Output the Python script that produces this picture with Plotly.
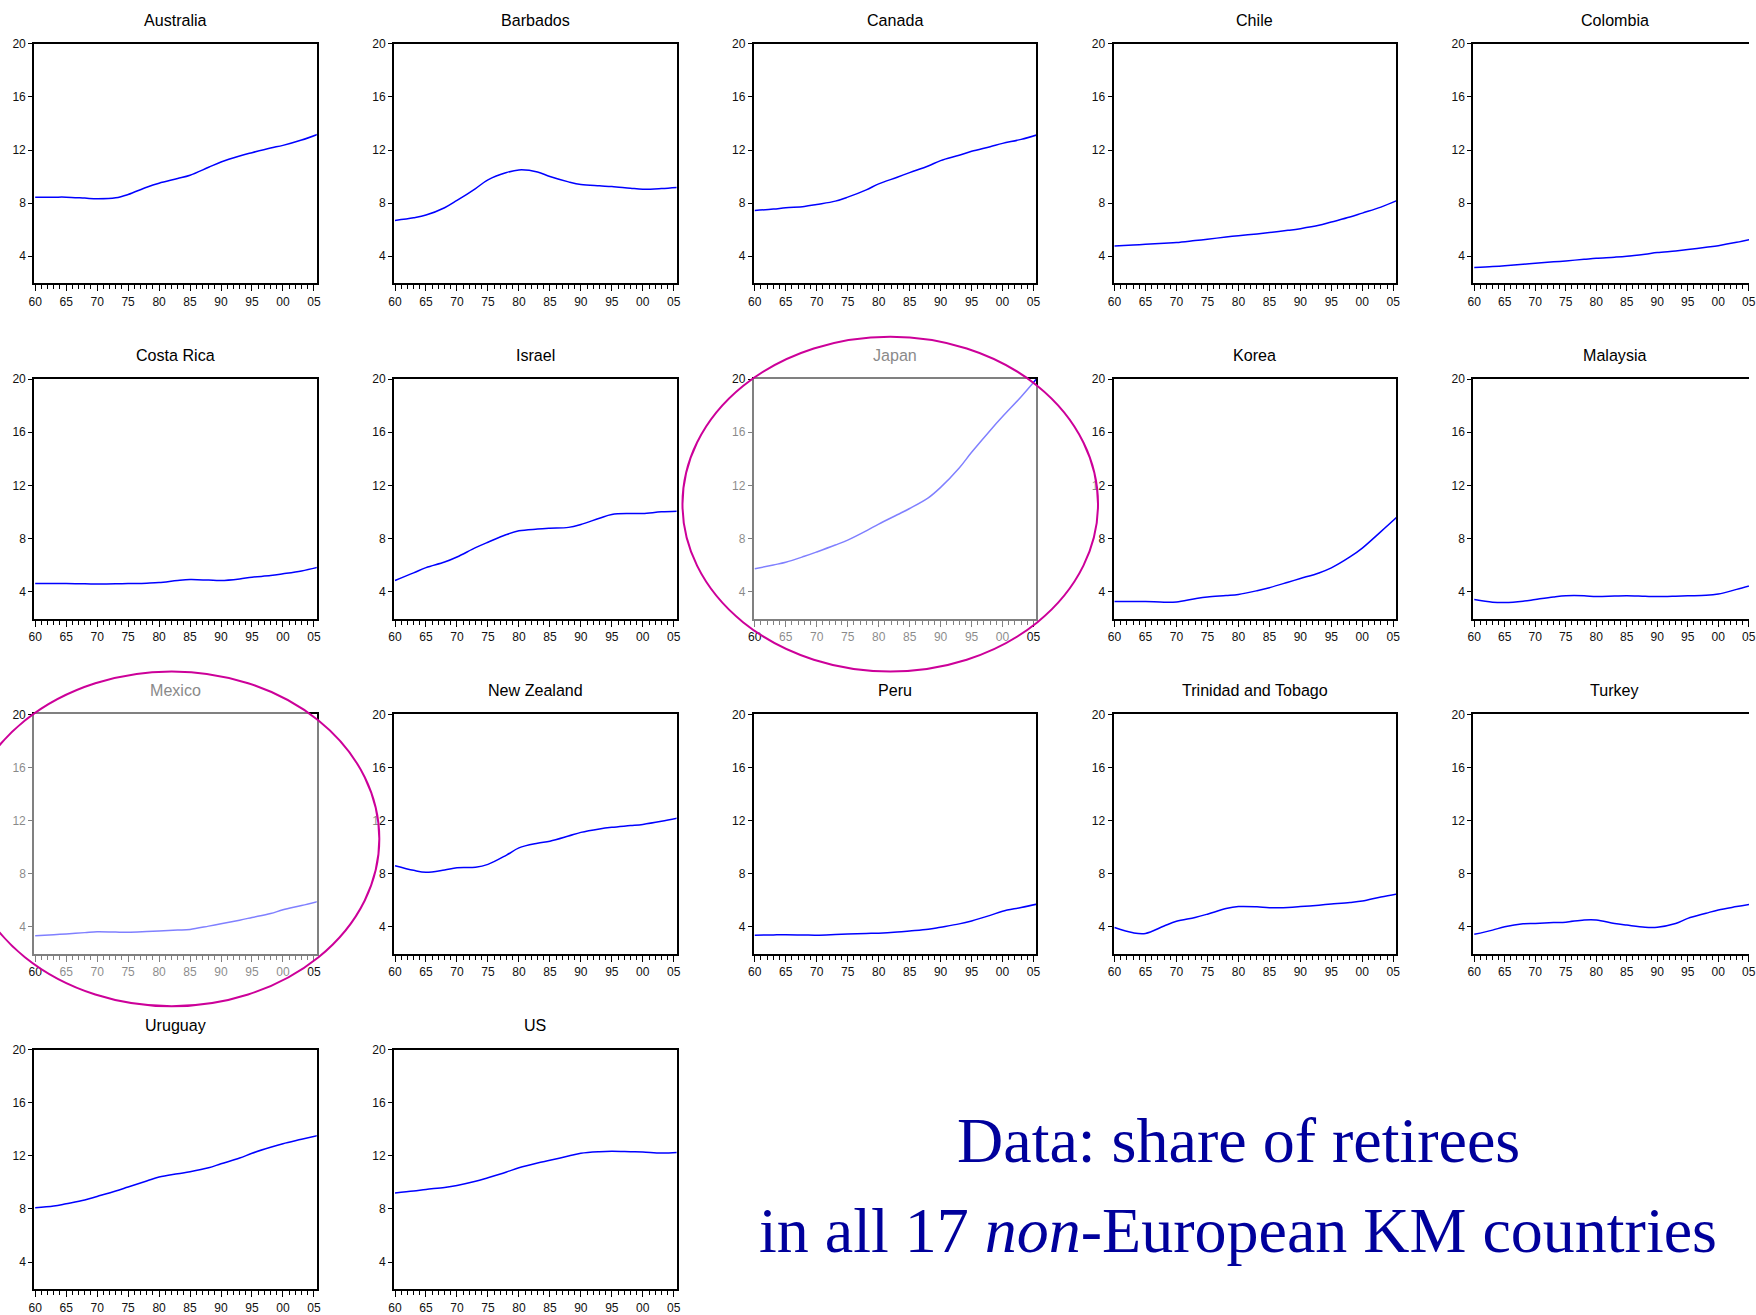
import plotly.graph_objects as go

W, H = 1756, 1315

# ---------------- data (share of retirees, %) ----------------
YEARS = [1960, 1963, 1965, 1968, 1970, 1973, 1975, 1978, 1980, 1983,
         1985, 1988, 1990, 1993, 1995, 1998, 2000, 2003, 2006]

AUSTRALIA = [8.45, 8.45, 8.45, 8.38, 8.33, 8.40, 8.65, 9.20, 9.50, 9.85,
             10.10, 10.70, 11.10, 11.55, 11.80, 12.15, 12.35, 12.75, 13.25]
BARBADOS = [6.70, 6.90, 7.10, 7.65, 8.20, 9.10, 9.75, 10.30, 10.50, 10.35,
            10.00, 9.60, 9.40, 9.30, 9.25, 9.12, 9.05, 9.10, 9.20]
CANADA = [7.45, 7.55, 7.65, 7.75, 7.90, 8.15, 8.45, 9.00, 9.45, 9.95,
          10.30, 10.80, 11.20, 11.60, 11.90, 12.25, 12.50, 12.80, 13.20]
CHILE = [4.78, 4.85, 4.90, 4.98, 5.03, 5.18, 5.28, 5.45, 5.55, 5.68,
         5.78, 5.95, 6.08, 6.33, 6.58, 6.95, 7.25, 7.70, 8.28]
COLOMBIA = [3.15, 3.22, 3.28, 3.40, 3.48, 3.58, 3.65, 3.77, 3.85, 3.93,
            4.00, 4.16, 4.28, 4.40, 4.50, 4.68, 4.80, 5.05, 5.35]
COSTA_RICA = [4.60, 4.60, 4.60, 4.58, 4.57, 4.58, 4.60, 4.63, 4.67, 4.83,
              4.90, 4.86, 4.83, 4.95, 5.08, 5.20, 5.33, 5.55, 5.87]
ISRAEL = [4.83, 5.40, 5.80, 6.22, 6.60, 7.30, 7.71, 8.29, 8.57, 8.70,
          8.76, 8.83, 9.05, 9.52, 9.80, 9.87, 9.87, 10.00, 10.06]
JAPAN = [5.71, 6.00, 6.20, 6.65, 6.98, 7.50, 7.87, 8.57, 9.08, 9.78,
         10.25, 11.05, 11.84, 13.30, 14.48, 16.13, 17.17, 18.67, 20.30]
KOREA = [3.24, 3.24, 3.24, 3.20, 3.22, 3.46, 3.59, 3.70, 3.78, 4.06,
         4.29, 4.70, 4.98, 5.40, 5.78, 6.60, 7.27, 8.51, 9.78]
MALAYSIA = [3.40, 3.20, 3.17, 3.27, 3.40, 3.59, 3.68, 3.68, 3.62, 3.66,
            3.68, 3.64, 3.62, 3.65, 3.68, 3.71, 3.81, 4.16, 4.55]
MEXICO = [3.32, 3.40, 3.46, 3.56, 3.63, 3.60, 3.59, 3.64, 3.68, 3.75,
          3.80, 4.05, 4.23, 4.50, 4.70, 5.00, 5.28, 5.60, 5.95]
NEW_ZEALAND = [8.60, 8.25, 8.10, 8.28, 8.44, 8.48, 8.70, 9.40, 9.94, 10.29,
               10.44, 10.83, 11.11, 11.37, 11.49, 11.62, 11.71, 11.94, 12.22]
PERU = [3.37, 3.39, 3.40, 3.38, 3.37, 3.42, 3.46, 3.50, 3.52, 3.60,
        3.68, 3.81, 3.97, 4.22, 4.44, 4.86, 5.17, 5.45, 5.75]
TRINIDAD = [3.94, 3.55, 3.50, 4.06, 4.41, 4.70, 4.95, 5.37, 5.52, 5.50,
            5.43, 5.46, 5.52, 5.63, 5.71, 5.83, 5.94, 6.25, 6.51]
TURKEY = [3.43, 3.75, 4.00, 4.22, 4.25, 4.32, 4.35, 4.51, 4.51, 4.25,
          4.13, 3.97, 3.97, 4.25, 4.63, 5.02, 5.27, 5.52, 5.75]
URUGUAY = [8.09, 8.22, 8.39, 8.67, 8.94, 9.35, 9.65, 10.10, 10.40, 10.65,
           10.80, 11.10, 11.40, 11.83, 12.19, 12.64, 12.91, 13.24, 13.57]
US = [9.20, 9.35, 9.47, 9.62, 9.77, 10.08, 10.35, 10.78, 11.10, 11.46,
      11.66, 11.98, 12.19, 12.31, 12.34, 12.31, 12.29, 12.21, 12.26]

COUNTRIES = ["Australia", "Barbados", "Canada", "Chile", "Colombia",
             "Costa Rica", "Israel", "Japan", "Korea", "Malaysia",
             "Mexico", "New Zealand", "Peru", "Trinidad and Tobago", "Turkey",
             "Uruguay", "US"]
SERIES = [AUSTRALIA, BARBADOS, CANADA, CHILE, COLOMBIA,
          COSTA_RICA, ISRAEL, JAPAN, KOREA, MALAYSIA,
          MEXICO, NEW_ZEALAND, PERU, TRINIDAD, TURKEY,
          URUGUAY, US]
DIMMED = ["Japan", "Mexico"]

X_TICK_YEARS = [1960, 1965, 1970, 1975, 1980, 1985, 1990, 1995, 2000, 2005]
X_TICK_LABELS = ["60", "65", "70", "75", "80", "85", "90", "95", "00", "05"]
X_MINOR_YEARS = list(range(1960, 2007))
Y_TICKS = [4, 8, 12, 16, 20]

TEXT_LINE1 = "Data: share of retirees"
TEXT_LINE2 = "in all 17 <i>non</i>-European KM countries"

# ---------------- layout geometry (target pixels) ----------------
# small correction so that the rendered picture lands on the target pixels
OX, SX = 5.0, 0.9944
OY, SY = 5.8, 0.993


def tx(x):
    return (x - OX) / SX


def ty(y):
    return (y - OY) / SY


COL_LEFT = [33.3, 393.8, 754.2, 1114.6, 1475.0]
ROW_TOP = [42.7, 379.2, 715.7, 1052.2]
PW, PH = 283.0, 240.6
X0, X1 = 1959.85, 2005.45
FS = 1 / SX

fig = go.Figure()
annotations = []
layout_axes = {}

for i, (name, vals) in enumerate(zip(COUNTRIES, SERIES)):
    row, col = divmod(i, 5)
    n = "" if i == 0 else str(i + 1)
    left = tx(COL_LEFT[col])
    full_right = tx(COL_LEFT[col] + PW)
    right = min(full_right, W)
    top = ty(ROW_TOP[row])
    bottom = ty(ROW_TOP[row] + PH)
    px_per_year = (full_right - left) / (X1 - X0)
    last_col = full_right > W
    xmax = X1 if not last_col else max(X0 + (right - left) / px_per_year, 2005.03)

    fig.add_trace(go.Scatter(
        x=YEARS, y=vals, mode="lines",
        line=dict(color="#0000ff", width=1.5, shape="spline", smoothing=1.0),
        xaxis="x" + n, yaxis="y" + n, showlegend=False, hoverinfo="skip"))

    layout_axes["xaxis" + n] = dict(
        domain=[left / W, right / W], anchor="y" + n,
        range=[X0, xmax], tickmode="array",
        tickvals=X_TICK_YEARS, ticktext=X_TICK_LABELS,
        ticks="outside", ticklen=6, tickwidth=1, tickcolor="black",
        showline=True, linewidth=2, linecolor="black", mirror=True,
        showgrid=False, zeroline=False, tickangle=0,
        ticklabeloverflow="allow",
        tickfont=dict(family="Liberation Sans, Arial, sans-serif", size=12 * FS, color="#111"),
        minor=dict(tickmode="array", tickvals=X_MINOR_YEARS, ticks="outside",
                   ticklen=4, tickwidth=1, tickcolor="black", showgrid=False),
        fixedrange=True)
    layout_axes["yaxis" + n] = dict(
        domain=[1 - bottom / H, 1 - top / H], anchor="x" + n,
        range=[1.95, 20], tickmode="array", tickvals=Y_TICKS,
        ticks="outside", ticklen=4, tickwidth=1, tickcolor="black",
        showline=True, linewidth=2, linecolor="black",
        mirror=(not last_col),
        showgrid=False, zeroline=False,
        tickfont=dict(family="Liberation Sans, Arial, sans-serif", size=12 * FS, color="#111"),
        fixedrange=True)

    annotations.append(dict(
        text=name, xref="paper", yref="paper",
        x=tx(COL_LEFT[col] + PW / 2) / W, y=1 - ty(ROW_TOP[row] - 24.3) / H,
        xanchor="center", yanchor="middle", showarrow=False,
        font=dict(family="Liberation Sans, Arial, sans-serif", size=16 * FS,
                  color="#8a8a8a" if name in DIMMED else "#000")))

annotations.append(dict(
    text=TEXT_LINE1, xref="paper", yref="paper",
    x=tx(1239.5) / W, y=1 - ty(1143) / H, xanchor="center", yanchor="middle",
    showarrow=False,
    font=dict(family="Liberation Serif, Times New Roman, serif", size=64, color="#00009c")))
annotations.append(dict(
    text=TEXT_LINE2, xref="paper", yref="paper",
    x=tx(1239.5) / W, y=1 - ty(1234) / H, xanchor="center", yanchor="middle",
    showarrow=False,
    font=dict(family="Liberation Serif, Times New Roman, serif", size=64, color="#00009c")))

# highlight ellipses (target pixel boxes) over Japan and Mexico
ELLIPSES = [(682.7, 336.7, 1099.0, 672.7), (-37.0, 672.7, 379.0, 1008.7)]
shapes = []
for (ex0, ey0, ex1, ey1) in ELLIPSES:
    shapes.append(dict(
        type="circle", xref="paper", yref="paper",
        x0=tx(ex0) / W, x1=tx(ex1) / W, y0=1 - ty(ey1) / H, y1=1 - ty(ey0) / H,
        line=dict(color="#cc0099", width=2),
        fillcolor="rgba(255,255,255,0.5)", layer="above"))

fig.update_layout(
    width=W, height=H, autosize=False,
    margin=dict(l=0, r=0, t=0, b=0),
    paper_bgcolor="white", plot_bgcolor="white",
    showlegend=False, annotations=annotations, shapes=shapes,
    **layout_axes)

fig.write_html(
    "out.html",
    config={"displayModeBar": False, "staticPlot": True},
    post_script="document.body.style.margin='0';document.body.style.padding='0';"
                "document.body.style.overflow='hidden';")
